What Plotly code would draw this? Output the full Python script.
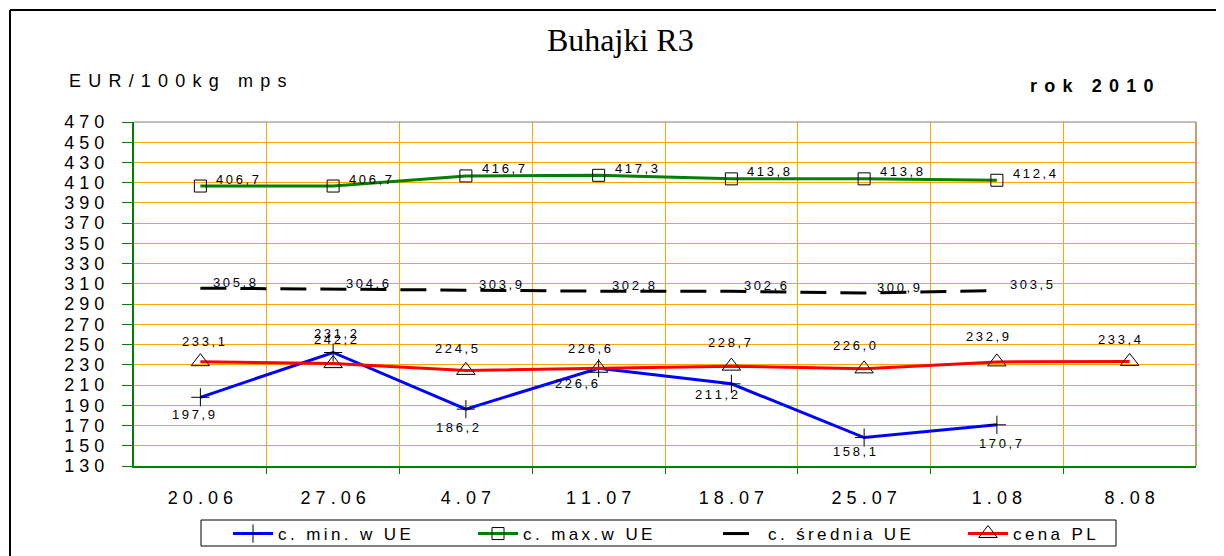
import plotly.graph_objects as go

categories = ["20.06", "27.06", "4.07", "11.07", "18.07", "25.07", "1.08", "8.08"]
min_ue = [197.9, 242.2, 186.2, 226.6, 211.2, 158.1, 170.7, None]
max_ue = [406.7, 406.7, 416.7, 417.3, 413.8, 413.8, 412.4, None]
avg_ue = [305.8, 304.6, 303.9, 302.8, 302.6, 300.9, 303.5, None]
cena_pl = [233.1, 231.2, 224.5, 226.6, 228.7, 226.0, 232.9, 233.4]
y_ticks = list(range(130, 471, 20))

FONT = "Liberation Sans, Arial, sans-serif"
OFF = 8  # body margin of the html page

# plot area in page pixels
PL_L, PL_R, PL_T, PL_B = 134, 1196, 122, 466
PW, PH = PL_R - PL_L, PL_B - PL_T


def px(x):
    return (x - PL_L) / PW


def py(y):
    return (PL_B - y) / PH


def sp(s, gap="\u2009"):
    return gap.join(list(s))


def fmt(v):
    return f"{v:.1f}".replace(".", ",")


xlab = [sp(c, "\u2009\u200a") for c in categories]
idx = list(range(len(categories)))

fig = go.Figure()

fig.add_trace(go.Scatter(
    x=idx, y=min_ue, mode="lines+markers", name=sp("c. min. w UE"),
    line=dict(color="#0000FF", width=3),
    marker=dict(symbol="cross-thin", size=13, color="black", line=dict(color="black", width=1)),
))
fig.add_trace(go.Scatter(
    x=idx, y=max_ue, mode="lines+markers", name=sp("c. max.w UE"),
    line=dict(color="#008000", width=3),
    marker=dict(symbol="square-open", size=12, color="black", line=dict(color="black", width=1)),
))
fig.add_trace(go.Scatter(
    x=idx, y=avg_ue, mode="lines", name=sp("c. średnia UE"),
    line=dict(color="black", width=3, dash="26px,14px"),
))
fig.add_trace(go.Scatter(
    x=idx, y=cena_pl, mode="lines+markers", name=sp("cena PL"),
    line=dict(color="#FF0000", width=3),
    marker=dict(symbol="triangle-up-open", size=16, color="black", line=dict(color="black", width=1)),
))

annotations = []
lab_font = dict(family=FONT, size=13, color="black")
min_shift = [(-7, -17), (2, 13), (-8, -18), (-22, -15), (-15, -11), (-10, -14), (4, -19), (0, 0)]
pl_shift = [(3, 20), (2, 30), (-9, 22), (-9, 20), (-2, 24), (-10, 23), (-9, 25), (-10, 22)]
for i in idx:
    if min_ue[i] is not None:
        dx, dy = min_shift[i]
        annotations.append(dict(x=i, y=min_ue[i], text=sp(fmt(min_ue[i])), showarrow=False,
                                xshift=dx, yshift=dy, xanchor="center", yanchor="middle", font=lab_font))
    if max_ue[i] is not None:
        annotations.append(dict(x=i, y=max_ue[i], text=sp(fmt(max_ue[i])), showarrow=False,
                                xanchor="left", yanchor="middle", xshift=14, yshift=7, font=lab_font))
    if avg_ue[i] is not None:
        annotations.append(dict(x=i, y=avg_ue[i], text=sp(fmt(avg_ue[i])), showarrow=False,
                                xanchor="left", yanchor="middle", xshift=11, yshift=6, font=lab_font))
    dx, dy = pl_shift[i]
    annotations.append(dict(x=i, y=cena_pl[i], text=sp(fmt(cena_pl[i])), showarrow=False,
                            xshift=dx, yshift=dy, xanchor="center", yanchor="middle", font=lab_font))

# texts around the plot
annotations.append(dict(xref="paper", yref="paper", x=px(620), y=py(40),
                        xanchor="center", yanchor="middle",
                        text="Buhajki R3", showarrow=False,
                        font=dict(family="Liberation Serif, Times New Roman, serif", size=32, color="black")))
annotations.append(dict(xref="paper", yref="paper", x=px(67), y=py(81),
                        xanchor="left", yanchor="middle",
                        text=sp("EUR/100kg mps", "\u2009\u2009"), showarrow=False,
                        font=dict(family=FONT, size=18, color="black")))
annotations.append(dict(xref="paper", yref="paper", x=px(1156), y=py(86),
                        xanchor="right", yanchor="middle",
                        text="<b>" + sp("rok 2010", "\u2009\u2009") + "</b>", showarrow=False,
                        font=dict(family=FONT, size=18, color="black")))

shapes = [
    # outer frame
    dict(type="line", xref="paper", yref="paper", x0=px(10), x1=px(1240),
         y0=py(10), y1=py(10), line=dict(color="black", width=2)),
    dict(type="line", xref="paper", yref="paper", x0=px(10), x1=px(10),
         y0=py(10), y1=py(570), line=dict(color="black", width=2)),
    # plot area top / right
    dict(type="line", xref="paper", yref="paper", x0=0, x1=1, y0=1, y1=1,
         line=dict(color="#808080", width=1)),
    dict(type="line", xref="paper", yref="paper", x0=1, x1=1, y0=0, y1=1,
         line=dict(color="#C0A070", width=2)),
    # legend box
    dict(type="rect", xref="paper", yref="paper", x0=px(201), x1=px(1116),
         y0=py(520), y1=py(546), line=dict(color="black", width=1), fillcolor="rgba(0,0,0,0)"),
]

fig.update_layout(
    width=1224 - OFF, height=556 - OFF,
    margin=dict(l=PL_L - OFF, r=(1224 - OFF) - (PL_R - OFF), t=PL_T - OFF, b=(556 - OFF) - (PL_B - OFF),
                autoexpand=False),
    paper_bgcolor="white", plot_bgcolor="white",
    showlegend=True,
    legend=dict(orientation="h", x=px(228), y=py(516),
                xanchor="left", yanchor="top",
                borderwidth=0, bgcolor="rgba(0,0,0,0)",
                font=dict(family=FONT, size=17, color="black"),
                entrywidth=190, itemwidth=40),
    annotations=annotations,
    shapes=shapes,
)

fig.update_xaxes(
    range=[-0.5, 7.5], automargin=False,
    tickvals=idx, ticktext=xlab,
    showgrid=False,
    showline=True, linecolor="#008000", linewidth=2,
    ticks="",
    tickfont=dict(family=FONT, size=18, color="black"),
    ticklabelstandoff=14,
    zeroline=False,
    minor=dict(tickvals=[i + 0.5 for i in idx[:-1]], showgrid=True, gridcolor="#FFA500", gridwidth=1,
               ticks="outside", ticklen=6, tickcolor="#008000"),
)
fig.update_yaxes(
    range=[130, 470], automargin=False,
    tickvals=y_ticks, ticktext=[sp(str(v), " ") for v in y_ticks],
    showgrid=True, gridcolor="#FFA500", gridwidth=1,
    showline=True, linecolor="#008000", linewidth=2,
    ticks="outside", ticklen=10, tickcolor="#008000",
    tickfont=dict(family=FONT, size=18, color="black"),
    ticklabelstandoff=14,
    zeroline=False,
)

fig.write_html("out.html")
